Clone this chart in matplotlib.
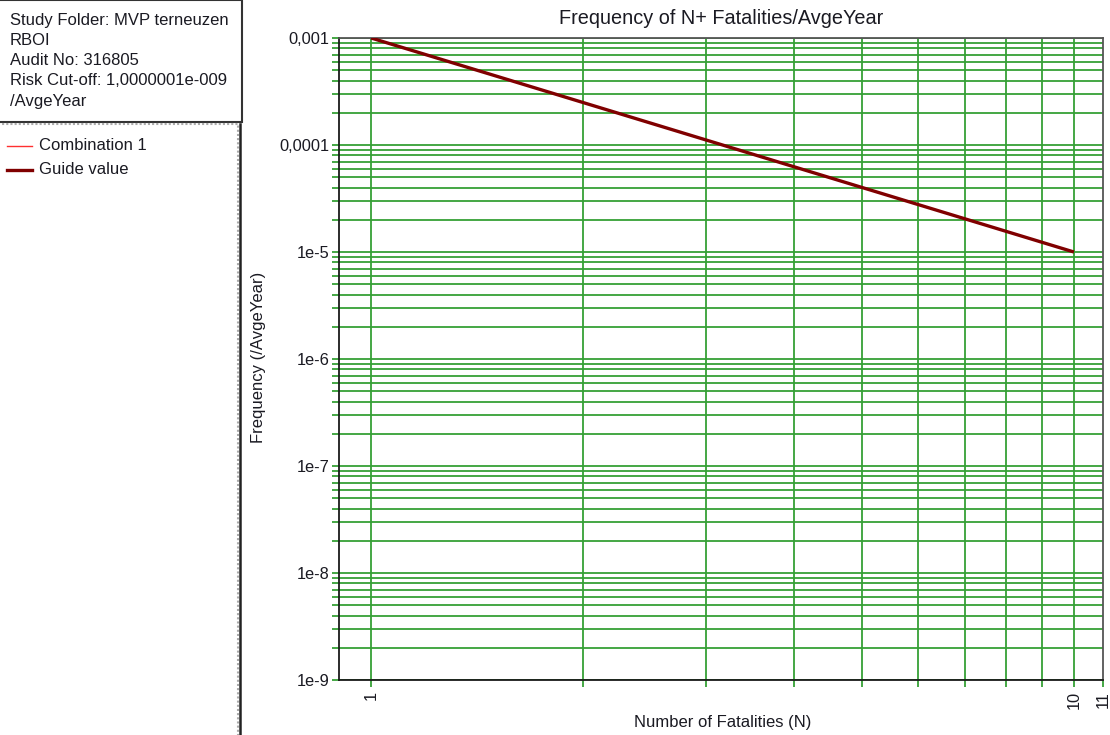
import matplotlib
matplotlib.use("Agg")
import matplotlib.pyplot as plt
from matplotlib.patches import Rectangle
from matplotlib.lines import Line2D
from matplotlib.ticker import FixedLocator, FixedFormatter, NullFormatter

plt.rcParams['font.family'] = ['Liberation Sans', 'DejaVu Sans']

# Data
guide_n = [1, 10]
guide_freq = [1e-3, 1e-5]
series_names = ["Combination 1", "Guide value"]
series_colors = ["#ff3030", "#800000"]
y_ticks = [1e-3, 1e-4, 1e-5, 1e-6, 1e-7, 1e-8, 1e-9]
y_labels = ["0,001", "0,0001", "1e-5", "1e-6", "1e-7", "1e-8", "1e-9"]
x_ticks = [1, 10, 11]
x_labels = ["1", "10", "11"]
x_grid = [1, 2, 3, 4, 5, 6, 7, 8, 9, 10]
info_lines = ["Study Folder: MVP terneuzen", "RBOI", "Audit No: 316805",
              "Risk Cut-off: 1,0000001e-009", "/AvgeYear"]

W, H = 1110, 735
fig = plt.figure(figsize=(W / 100, H / 100), dpi=100)

def fx(px):
    return px / W

def fy(py):
    return 1 - py / H

green = "#36a036"
txt = "#1a1a22"
ax = fig.add_axes([fx(339), fy(680), fx(1103 - 339), (680 - 38) / H])
ax.set_xscale('log')
ax.set_yscale('log')
ax.set_xlim(0.9, 11)
ax.set_ylim(1e-9, 1e-3)

# horizontal grid (major + minor)
for d in range(-9, -3):
    for m in range(1, 10):
        v = m * 10.0 ** d
        if 1e-9 <= v <= 1e-3:
            ax.axhline(v, color=green, lw=1.3, zorder=1)
ax.axhline(1e-3, color=green, lw=1.3, zorder=1)
for xv in x_grid:
    ax.axvline(xv, color=green, lw=1.3, zorder=1)

ax.plot(guide_n, guide_freq, color=series_colors[1], lw=2.4, zorder=3,
        solid_capstyle='butt')

ax.xaxis.set_major_locator(FixedLocator(x_ticks))
ax.xaxis.set_major_formatter(FixedFormatter(x_labels))
ax.xaxis.set_minor_locator(FixedLocator([2, 3, 4, 5, 6, 7, 8, 9]))
ax.xaxis.set_minor_formatter(NullFormatter())
ax.yaxis.set_major_locator(FixedLocator(y_ticks))
ax.yaxis.set_major_formatter(FixedFormatter(y_labels))
yminor = [m * 10.0 ** d for d in range(-9, -3) for m in range(2, 10)]
ax.yaxis.set_minor_locator(FixedLocator(yminor))
ax.yaxis.set_minor_formatter(NullFormatter())

ax.tick_params(axis='both', which='both', direction='out', color=green,
               width=1.3, labelsize=11.8, labelcolor=txt)
ax.tick_params(axis='y', which='major', length=5, pad=2)
ax.tick_params(axis='y', which='minor', length=5)
ax.tick_params(axis='x', which='both', length=5, pad=3)
for lbl in ax.get_xticklabels():
    lbl.set_rotation(90)
    lbl.set_va('top')

for s in ['left', 'bottom']:
    ax.spines[s].set_color('#1a1a1a')
    ax.spines[s].set_linewidth(1.3)
for s in ['top', 'right']:
    ax.spines[s].set_color('#555555')
    ax.spines[s].set_linewidth(1.3)
ax.set_zorder(2)

fig.text(fx(721), fy(18), "Frequency of N+ Fatalities/AvgeYear",
         ha='center', va='center', fontsize=14.3, color=txt)
fig.text(fx(723), fy(722), "Number of Fatalities (N)", ha='center',
         va='center', fontsize=12, color=txt)
fig.text(fx(259), fy(357), "Frequency (/AvgeYear)", ha='center',
         va='center', rotation=90, fontsize=12, color=txt)

# left panel: info box
fig.patches.append(Rectangle((fx(-2), fy(122)), fx(244), 122 / H,
                             transform=fig.transFigure, fill=False,
                             edgecolor='#333333', lw=1.5))
for i, t in enumerate(info_lines):
    fig.text(fx(10), fy(20 + i * 20.3), t, ha='left', va='center',
             fontsize=12, color=txt)

# legend box
fig.patches.append(Rectangle((fx(-2), fy(740)), fx(240), (740 - 124) / H,
                             transform=fig.transFigure, fill=False,
                             edgecolor='#aaaaaa', lw=1.5, ls=(0, (1, 1))))
fig.add_artist(Line2D([fx(240), fx(240)], [fy(124), 0],
                      transform=fig.transFigure, color='#222222', lw=1.8))
legend_ys = [146, 170]
legend_lws = [1.0, 2.4]
for name, c, ly, lw in zip(series_names, series_colors, legend_ys, legend_lws):
    fig.add_artist(Line2D([fx(7), fx(32)], [fy(ly), fy(ly)],
                          transform=fig.transFigure, color=c, lw=lw))
    fig.text(fx(39), fy(ly), name, ha='left', va='center', fontsize=12,
             color=txt)

fig.savefig("out.png", dpi=100)
